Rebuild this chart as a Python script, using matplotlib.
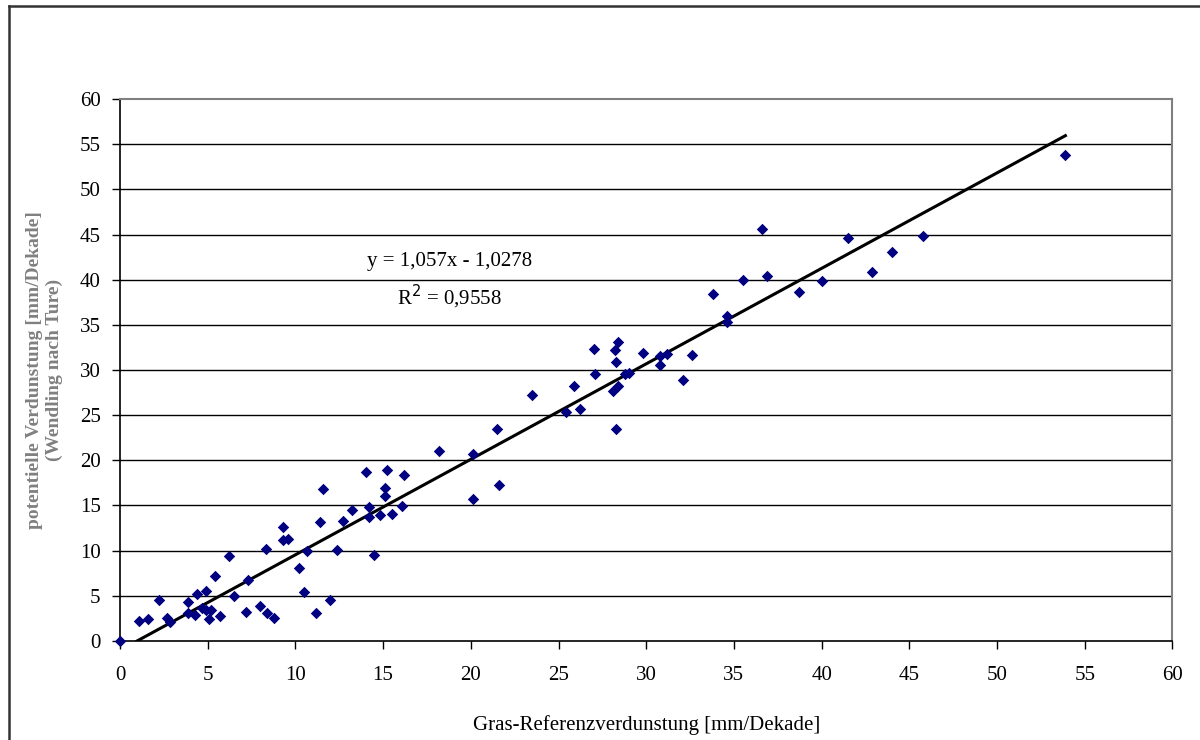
import numpy as np
import matplotlib
matplotlib.use("Agg")
from matplotlib import pyplot as plt
from matplotlib.lines import Line2D

plt.rcParams['font.family'] = ['Liberation Serif', 'DejaVu Serif']

# Gras-Referenzverdunstung [mm/Dekade]
gras = [0.0, 1.1, 1.6, 2.2, 2.7, 2.85, 3.9, 3.9, 4.3, 4.4, 4.7, 4.9, 4.9, 5.1, 5.2,
        5.4, 5.7, 6.2, 6.5, 7.2, 7.3, 8.0, 8.3, 8.4, 8.8, 9.3, 9.3, 9.6, 10.2, 10.5,
        10.65, 11.2, 11.6, 11.4, 12.0, 12.4, 12.7, 13.2, 14.0, 14.2, 14.2, 14.5, 14.8,
        15.1, 15.1, 15.2, 15.5, 16.1, 16.2, 18.2, 20.1, 20.1, 21.5, 21.6, 23.5, 25.4,
        25.9, 26.2, 27.0, 27.1, 28.1, 28.2, 28.4, 28.3, 28.3, 28.4, 28.8, 29.0, 29.8,
        30.8, 30.8, 31.2, 32.1, 32.6, 34.6, 34.6, 33.8, 35.5, 36.6, 36.9, 38.7, 40.0,
        41.5, 42.9, 44.0, 45.8, 53.9]
# potentielle Verdunstung (Wendling nach Ture)
wendling = [0.0, 2.2, 2.4, 4.5, 2.6, 2.1, 4.3, 3.1, 2.9, 5.2, 3.6, 5.5, 3.4, 2.4, 3.4,
            7.2, 2.8, 9.4, 5.0, 3.2, 6.8, 3.9, 10.2, 3.1, 2.5, 12.6, 11.2, 11.3, 8.1, 5.4,
            10.0, 3.1, 16.8, 13.2, 4.5, 10.1, 13.3, 14.5, 18.7, 14.8, 13.7, 9.5, 14.0,
            16.9, 16.0, 18.9, 14.1, 14.9, 18.4, 21.0, 20.7, 15.75, 23.5, 17.3, 27.2, 25.4,
            28.2, 25.7, 32.3, 29.6, 27.7, 32.2, 33.1, 30.9, 23.5, 28.2, 29.6, 29.7, 31.9,
            31.5, 30.6, 31.8, 28.9, 31.7, 36.0, 35.3, 38.4, 40.0, 45.6, 40.4, 38.6, 39.8,
            44.6, 40.9, 43.1, 44.8, 53.8]

slope = 1.057
intercept = -1.0278
ticks = np.arange(0, 61, 5)

fig = plt.figure(figsize=(12, 7.4), dpi=100)
ax = fig.add_axes([0.1, 0.1338, 0.877, 0.7324])

for t in ticks[1:-1]:
    ax.axhline(t, color='black', lw=1.0, zorder=1)

x0 = -intercept / slope
x1 = max(gras)
ax.plot([x0, x1], [slope * x0 + intercept, slope * x1 + intercept],
        color='black', lw=2.2, zorder=2)
ax.scatter(gras, wendling, marker='D', s=34, color='#000080', zorder=3,
           linewidths=0, clip_on=False)

ax.text(18.8, 42.0, 'y = 1,057x - 1,0278', ha='center', va='center', fontsize=15)
ax.text(18.8, 38.1, 'R$^2$ = 0,9558', ha='center', va='center', fontsize=15)

ax.set_xlim(0, 60)
ax.set_ylim(0, 60)
ax.set_xticks(ticks)
ax.set_yticks(ticks)
ax.tick_params(direction='out', length=6, width=1, labelsize=15, colors='black', pad=8)
ax.tick_params(axis='x', pad=12)
for s in ['top', 'right']:
    ax.spines[s].set_color('#808080')
    ax.spines[s].set_linewidth(1.5)
for s in ['left', 'bottom']:
    ax.spines[s].set_color('black')
    ax.spines[s].set_linewidth(1.2)

ax.set_xlabel('Gras-Referenzverdunstung [mm/Dekade]', fontsize=15, labelpad=22)
ax.set_ylabel('potentielle Verdunstung [mm/Dekade]\n(Wendling nach Ture)',
              fontsize=14, color='#808080', fontweight='bold', labelpad=12)

# outer chart frame (left and top edges visible)
fig.add_artist(Line2D([0.0078, 0.0078], [0.0, 0.992], color='#333333', lw=1.8))
fig.add_artist(Line2D([0.0078, 1.0], [0.992, 0.992], color='#333333', lw=1.8))

fig.savefig('out.png', dpi=100, facecolor='white')
